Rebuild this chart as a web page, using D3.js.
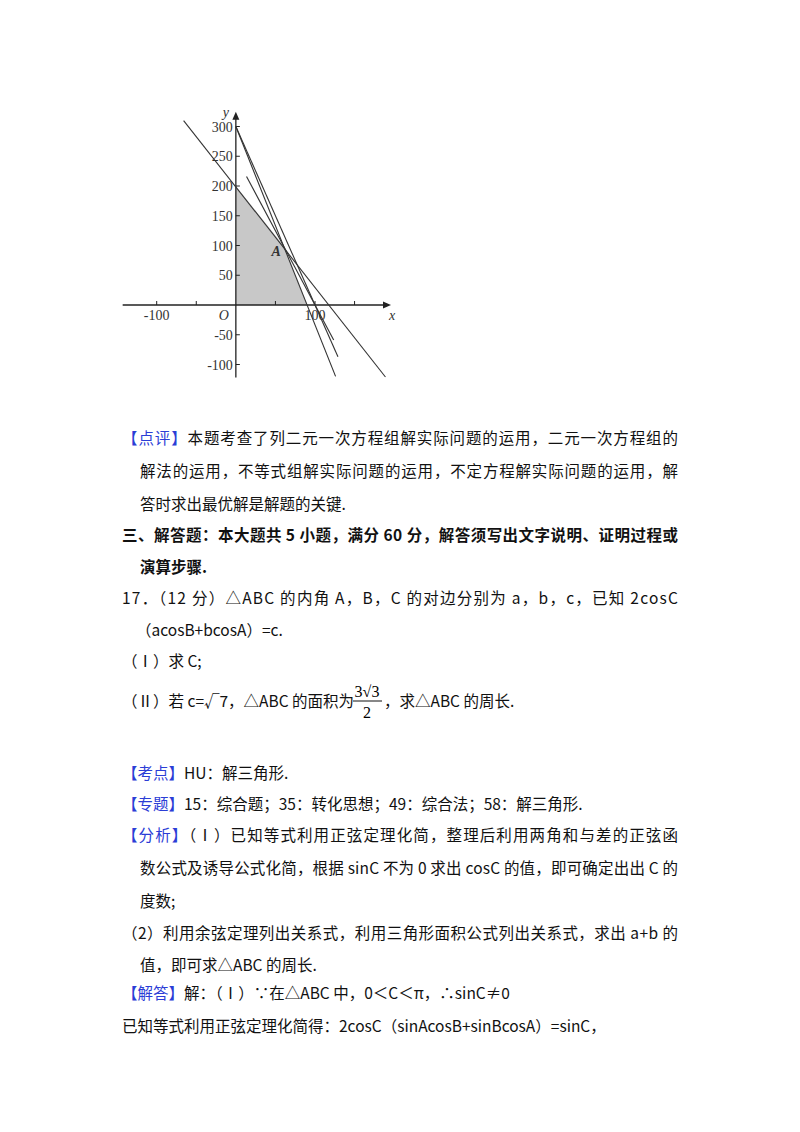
<!DOCTYPE html>
<html><head><meta charset="utf-8">
<script src="https://cdn.jsdelivr.net/npm/d3@7"></script>
<style>
body{margin:0;background:#fff}
text{font-family:"Noto Sans CJK SC","Noto Sans",sans-serif}
.ax text{font-family:"Liberation Serif","DejaVu Serif",serif;font-size:14px;fill:#333}
</style></head><body>
<script>
// feasible region and lines (x, y in chart units)
var region = [[0,0],[0,200],[60,100],[90,0]];
var lines = [
	[[-66,310],[189,-121]],
	[[0,300],[126,-120]],
	[[0,300],[129,-87]],
	[[13.5,216],[123.6,-59]]
];
var xTicks = [-100,100];
var xMinor = [-50,50,150];
var yTicks = [-100,-50,50,100,150,200,250,300];

var W = 800, H = 1132;
var svg = d3.select("body").append("svg").attr("width",W).attr("height",H);

var x = d3.scaleLinear().domain([-100,100]).range([156.7,315]);
var y = d3.scaleLinear().domain([0,300]).range([305,126.5]);

// shaded region
svg.append("path")
	.attr("d", d3.line().x(function(d){return x(d[0]);}).y(function(d){return y(d[1]);})(region) + "Z")
	.attr("fill","#c8c8c8");

var ax = svg.append("g").attr("class","ax");
// axes
ax.append("line").attr("x1",x(-143)).attr("x2",x(190)).attr("y1",y(0)).attr("y2",y(0)).attr("stroke","#222").attr("stroke-width",1.3);
ax.append("line").attr("x1",x(0)).attr("x2",x(0)).attr("y1",y(-122)).attr("y2",y(318)).attr("stroke","#222").attr("stroke-width",1.3);
ax.append("path").attr("d","M"+(x(196))+","+y(0)+"l-8,-3.5v7z").attr("fill","#222");
ax.append("path").attr("d","M"+x(0)+","+(y(325))+"l-3.5,8h7z").attr("fill","#222");
ax.append("text").attr("x",x(196)-2).attr("y",y(0)+15).text("x").style("font-style","italic");
ax.append("text").attr("x",x(0)-13).attr("y",y(320)+2).text("y").style("font-style","italic");
ax.append("text").attr("x",x(0)-17).attr("y",y(0)+15).text("O").style("font-style","italic");

xTicks.concat(xMinor).forEach(function(t){
	ax.append("line").attr("x1",x(t)).attr("x2",x(t)).attr("y1",y(0)).attr("y2",y(0)-4).attr("stroke","#222");
});
xTicks.forEach(function(t){
	ax.append("text").attr("x",x(t)).attr("y",y(0)+15).attr("text-anchor","middle").text(t);
});
yTicks.forEach(function(t){
	ax.append("line").attr("x1",x(0)).attr("x2",x(0)+4).attr("y1",y(t)).attr("y2",y(t)).attr("stroke","#222");
	ax.append("text").attr("x",x(0)-3).attr("y",y(t)+5).attr("text-anchor","end").text(t);
});

svg.selectAll(".ln").data(lines).enter().append("line")
	.attr("x1",function(d){return x(d[0][0]);}).attr("y1",function(d){return y(d[0][1]);})
	.attr("x2",function(d){return x(d[1][0]);}).attr("y2",function(d){return y(d[1][1]);})
	.attr("stroke","#333").attr("stroke-width",1.1);

ax.append("text").attr("x",x(45)).attr("y",y(82)).text("A").style("font-style","italic").style("font-weight","bold");

// text body
var body = [
	{y:444,x:122,parts:[["【点评】","#2b3dd6"],["本题考查了列二元一次方程组解实际问题的运用，二元一次方程组的"]],w:556},
	{y:477,x:140,parts:[["解法的运用，不等式组解实际问题的运用，不定方程解实际问题的运用，解"]],w:538},
	{y:510,x:140,parts:[["答时求出最优解是解题的关键."]]},
	{y:541,x:122,parts:[["三、解答题：本大题共 5 小题，满分 60 分，解答须写出文字说明、证明过程或"]],w:556,bold:true},
	{y:573,x:140,parts:[["演算步骤."]],bold:true},
	{y:604,x:122,parts:[["17．（12 分）△ABC 的内角 A，B，C 的对边分别为 a，b，c，已知 2cosC"]],w:556},
	{y:636,x:136,parts:[["（acosB+bcosA）=c."]]},
	{y:667,x:122,parts:[["（Ⅰ）求 C;"]]},
	{y:707,x:122,parts:[["（Ⅱ）若 c=√7，△ABC 的面积为"]]},
	{y:779,x:122,parts:[["【考点】","#2b3dd6"],["HU：解三角形."]]},
	{y:810,x:122,parts:[["【专题】","#2b3dd6"],["15：综合题；35：转化思想；49：综合法；58：解三角形."]]},
	{y:841,x:122,parts:[["【分析】","#2b3dd6"],["（Ⅰ）已知等式利用正弦定理化简，整理后利用两角和与差的正弦函"]],w:556},
	{y:874,x:140,parts:[["数公式及诱导公式化简，根据 sinC 不为 0 求出 cosC 的值，即可确定出出 C 的"]],w:538},
	{y:907,x:140,parts:[["度数;"]]},
	{y:939,x:122,parts:[["（2）利用余弦定理列出关系式，利用三角形面积公式列出关系式，求出 a+b 的"]],w:556},
	{y:971,x:140,parts:[["值，即可求△ABC 的周长."]]},
	{y:999,x:122,parts:[["【解答】","#2b3dd6"],["解：（Ⅰ）∵在△ABC 中，0＜C＜π，∴sinC≠0"]]},
	{y:1032,x:122,parts:[["已知等式利用正弦定理化简得：2cosC（sinAcosB+sinBcosA）=sinC，"]]}
];
body.forEach(function(l){
	var t = svg.append("text").attr("x",l.x).attr("y",l.y).style("font-size","15.5px").attr("fill","#111");
	if (l.bold) t.style("font-weight","bold");
	if (l.w) t.attr("textLength",l.w).attr("lengthAdjust","spacing");
	l.parts.forEach(function(p){
		t.append("tspan").text(p[0]).attr("fill",p[1]||"#111");
	});
});
// fraction 3√3 / 2 and tail
var fx = 353;
svg.append("text").attr("x",fx+14).attr("y",697).attr("text-anchor","middle").style("font-family","Liberation Serif,serif").style("font-size","16px").text("3√3");
svg.append("line").attr("x1",fx).attr("x2",fx+29).attr("y1",701).attr("y2",701).attr("stroke","#111");
svg.append("text").attr("x",fx+14).attr("y",718).attr("text-anchor","middle").style("font-family","Liberation Serif,serif").style("font-size","16px").text("2");
svg.append("text").attr("x",fx+31).attr("y",707).style("font-size","15.5px").attr("fill","#111").text("，求△ABC 的周长.");
</script>
</body></html>
